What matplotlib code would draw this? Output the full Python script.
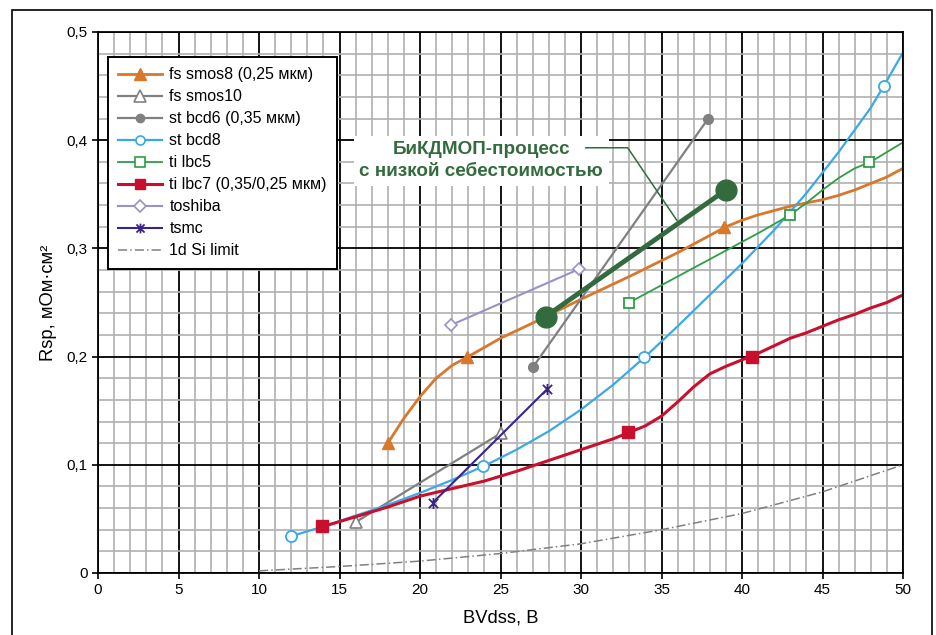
import matplotlib
matplotlib.use("Agg")
import matplotlib.pyplot as plt
from matplotlib.path import Path
from matplotlib.patches import Rectangle
from matplotlib.ticker import MultipleLocator, FuncFormatter

plt.rcParams['font.family'] = ['Liberation Sans', 'DejaVu Sans']

# fs smos8 (0,25 мкм) - smoothed curve + marker points
smos8_x = [18, 19, 20, 21, 22, 23, 25, 27, 30, 33, 36, 39, 40, 41, 42, 43, 44, 45, 46, 47, 48, 49, 50]
smos8_y = [0.12, 0.143, 0.163, 0.18, 0.192, 0.2, 0.217, 0.231, 0.253, 0.274, 0.296, 0.32, 0.326,
           0.331, 0.335, 0.339, 0.342, 0.345, 0.349, 0.354, 0.36, 0.366, 0.374]
smos8_mx = [18, 22.9, 38.9]
smos8_my = [0.12, 0.2, 0.32]

# fs smos10
smos10_x = [16, 25]
smos10_y = [0.047, 0.129]

# st bcd6 (0,35 мкм)
bcd6_x = [27, 37.9]
bcd6_y = [0.19, 0.42]

# st bcd8
bcd8_x = [12, 14, 16, 18, 20, 22, 24, 26, 28, 30, 32, 34, 36, 38, 40, 42, 44, 46, 48, 48.8, 50]
bcd8_y = [0.034, 0.043, 0.053, 0.063, 0.074, 0.086, 0.099, 0.114, 0.131, 0.151, 0.174, 0.2,
          0.228, 0.257, 0.286, 0.317, 0.351, 0.389, 0.43, 0.45, 0.481]
bcd8_mx = [12, 23.9, 33.9, 48.8]
bcd8_my = [0.034, 0.099, 0.2, 0.45]

# ti lbc5
lbc5_x = [33, 35, 37, 39, 41, 43, 44, 45, 46, 47, 48, 49, 50]
lbc5_y = [0.25, 0.266, 0.282, 0.298, 0.314, 0.331, 0.342, 0.354, 0.365, 0.374, 0.38, 0.389, 0.398]
lbc5_mx = [33, 43, 47.9]
lbc5_my = [0.25, 0.331, 0.38]

# ti lbc7 (0,35/0,25 мкм)
lbc7_x = [14, 16, 18, 20, 22, 24, 26, 28, 30, 32, 33, 34, 35, 36, 37, 38, 39, 40, 41, 42, 43,
          44, 45, 46, 47, 48, 49, 50]
lbc7_y = [0.043, 0.052, 0.061, 0.071, 0.078, 0.085, 0.094, 0.104, 0.114, 0.124, 0.13, 0.136,
          0.145, 0.158, 0.172, 0.184, 0.191, 0.197, 0.203, 0.21, 0.217, 0.222, 0.228, 0.234,
          0.239, 0.245, 0.25, 0.257]
lbc7_mx = [13.9, 32.9, 40.6]
lbc7_my = [0.043, 0.13, 0.2]

# toshiba
toshiba_x = [21.9, 29.9]
toshiba_y = [0.229, 0.281]

# tsmc
tsmc_x = [20.8, 27.9]
tsmc_y = [0.065, 0.17]

# 1d Si limit
si_x = [10, 15, 20, 25, 30, 35, 40, 45, 50]
si_y = [0.002, 0.006, 0.011, 0.018, 0.027, 0.04, 0.055, 0.075, 0.1]

# BiCDMOS low cost process
bicd_x = [27.8, 39.0]
bicd_y = [0.237, 0.354]

callout_text = "БиКДМОП-процесс\nс низкой себестоимостью"
callout_xy = (23.8, 0.381)
leader_x = [30.3, 32.9, 35.95]
leader_y = [0.393, 0.393, 0.326]

c_orange = '#d9772b'
c_grey = '#808080'
c_blue = '#3aa9e6'
c_green = '#2e9e45'
c_red = '#c8102e'
c_lav = '#9d8fc8'
c_purple = '#3c228c'
c_dgreen = '#336b3f'

star = Path([(-1, -1), (1, 1), (-1, 1), (1, -1), (0, -1.2), (0, 1.2)],
            [Path.MOVETO, Path.LINETO, Path.MOVETO, Path.LINETO, Path.MOVETO, Path.LINETO])

fig = plt.figure(figsize=(9.36, 6.35), dpi=100)
ax = fig.add_axes([98 / 936, 1 - 573 / 635, 805 / 936, 541 / 635])

# grid
ax.set_xlim(0, 50)
ax.set_ylim(0, 0.5)
ax.xaxis.set_major_locator(MultipleLocator(5))
ax.xaxis.set_minor_locator(MultipleLocator(1))
ax.yaxis.set_major_locator(MultipleLocator(0.1))
ax.yaxis.set_minor_locator(MultipleLocator(0.02))
ax.grid(which='minor', color='#b0b0b0', lw=1.2)
ax.grid(which='major', color='black', lw=1.3)
ax.set_axisbelow(True)
ax.tick_params(which='minor', length=0)
ax.tick_params(which='major', length=4, width=1.2, labelsize=11, color='black')
fmt = FuncFormatter(lambda v, p: ('%g' % round(v, 2)).replace('.', ','))
ax.xaxis.set_major_formatter(fmt)
ax.yaxis.set_major_formatter(fmt)
for s in ax.spines.values():
    s.set_linewidth(1.3)

# lines
ax.plot(si_x, si_y, color=c_grey, lw=1.1, ls=(0, (6, 2, 1, 2)))
ax.plot(smos8_x, smos8_y, color=c_orange, lw=2)
ax.plot(smos8_mx, smos8_my, ls='none', marker='^', ms=8, color=c_orange)
ax.plot(smos10_x, smos10_y, color=c_grey, lw=1.6, marker='^', ms=9, mfc='white', mec=c_grey, mew=1.2)
ax.plot(bcd6_x, bcd6_y, color=c_grey, lw=1.6, marker='o', ms=7)
ax.plot(bcd8_x, bcd8_y, color=c_blue, lw=1.6)
ax.plot(bcd8_mx, bcd8_my, ls='none', marker='o', ms=8, mfc='white', mec=c_blue, mew=1.3)
ax.plot(lbc5_x, lbc5_y, color=c_green, lw=1.3)
ax.plot(lbc5_mx, lbc5_my, ls='none', marker='s', ms=7, mfc='white', mec=c_green, mew=1.3)
ax.plot(lbc7_x, lbc7_y, color=c_red, lw=2.2)
ax.plot(lbc7_mx, lbc7_my, ls='none', marker='s', ms=8, color=c_red)
ax.plot(toshiba_x, toshiba_y, color=c_lav, lw=1.5, marker='D', ms=6.5, mfc='white', mec=c_lav, mew=1.2)
ax.plot(tsmc_x, tsmc_y, color=c_purple, lw=1.5, marker=star, ms=8, mfc='none', mec=c_purple, mew=1.3)
ax.plot(bicd_x, bicd_y, color=c_dgreen, lw=3.5, marker='o', ms=15)

# callout
ax.text(callout_xy[0], callout_xy[1], callout_text, color=c_dgreen, fontsize=13.6, fontweight='bold',
        ha='center', va='center', linespacing=1.35,
        bbox=dict(boxstyle='square,pad=0.3', fc='white', ec='none'), zorder=5)
ax.plot(leader_x, leader_y, color=c_dgreen, lw=1.1, zorder=5)

# legend
h = [
    plt.Line2D([], [], color=c_orange, lw=2, marker='^', ms=8),
    plt.Line2D([], [], color=c_grey, lw=1.6, marker='^', ms=8, mfc='white', mew=1.2),
    plt.Line2D([], [], color=c_grey, lw=1.6, marker='o', ms=6),
    plt.Line2D([], [], color=c_blue, lw=1.6, marker='o', ms=6.5, mfc='white', mew=1.2),
    plt.Line2D([], [], color=c_green, lw=1.3, marker='s', ms=6.5, mfc='white', mew=1.2),
    plt.Line2D([], [], color=c_red, lw=2.2, marker='s', ms=7),
    plt.Line2D([], [], color=c_lav, lw=1.5, marker='D', ms=6, mfc='white', mew=1.2),
    plt.Line2D([], [], color=c_purple, lw=1.5, marker=star, ms=7, mfc='none', mew=1.3),
    plt.Line2D([], [], color=c_grey, lw=1.1, ls=(0, (6, 2, 1, 2))),
]
labels = ['fs smos8 (0,25 мкм)', 'fs smos10', 'st bcd6 (0,35 мкм)', 'st bcd8', 'ti lbc5',
          'ti lbc7 (0,35/0,25 мкм)', 'toshiba', 'tsmc', '1d Si limit']
leg = ax.legend(h, labels, loc='upper left', bbox_to_anchor=(0.0124, 0.954), borderaxespad=0,
                fontsize=11.5, handlelength=2.75, handletextpad=0.45, labelspacing=0.44,
                borderpad=0.65, fancybox=False, framealpha=1, edgecolor='black')
leg.get_frame().set_linewidth(1.4)
leg.set_zorder(6)

ax.set_xlabel('BVdss, В', fontsize=13.2, labelpad=9)
ax.set_ylabel('Rsp, мОм·см²', fontsize=13.2, labelpad=7)

fig.patches.append(Rectangle((12 / 936, -0.01), 920 / 936, 1 - 10 / 635 + 0.01, transform=fig.transFigure,
                             fill=False, ec='black', lw=1.2))

fig.savefig('out.png', dpi=100)
